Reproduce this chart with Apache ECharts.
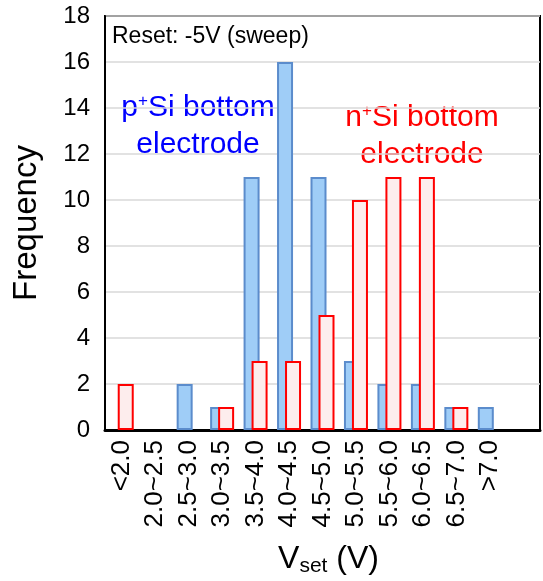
<!DOCTYPE html>
<html>
<head>
<meta charset="utf-8">
<script src="https://cdn.jsdelivr.net/npm/echarts@6/dist/echarts.min.js"></script>
<style>
  html, body { margin: 0; padding: 0; background: #fff; }
  #main { width: 543px; height: 581px; }
</style>
</head>
<body>
<div id="main"></div>
<script>
// ===================== data =====================
const categories = ['<2.0', '2.0~2.5', '2.5~3.0', '3.0~3.5', '3.5~4.0', '4.0~4.5', '4.5~5.0',
  '5.0~5.5', '5.5~6.0', '6.0~6.5', '6.5~7.0', '>7.0', '']
const pSiData = [0, 0, 2, 1, 11, 16, 11, 3, 2, 2, 1, 1]
const nSiData = [2, 0, 0, 1, 3, 3, 5, 10, 11, 11, 1, 0]
const yTicks = { min: 0, max: 18, interval: 2 }

const font = '"Liberation Sans", Arial, sans-serif'
// zero counts draw no bar
const noZero = (arr) => arr.map((v) => (v === 0 ? null : v))

// ===================== init =====================
const myChart = echarts.init(document.getElementById('main'))
const option = {
  animation: false,
  grid: {
    left: 105,
    right: 3,
    top: 16,
    bottom: 151,
    containLabel: false,
    outerBoundsMode: 'none',
    show: true,
    borderColor: '#000',
    borderWidth: 2,
  },
  xAxis: {
    type: 'category',
    data: categories,
    name: '{v|V}{s|set}{v| (V)}',
    nameLocation: 'middle',
    nameGap: 112,
    nameTextStyle: {
      padding: [0, 0, 0, 12],
      rich: {
        v: { fontSize: 32, fontFamily: font, color: '#000' },
        s: { fontSize: 21, fontFamily: font, color: '#000', verticalAlign: 'bottom', padding: [14, 0, 0, 0] },
      },
    },
    axisLine: { lineStyle: { color: '#000', width: 3 } },
    axisTick: { show: false },
    axisLabel: {
      rotate: 90,
      interval: 0,
      fontSize: 26,
      fontFamily: font,
      color: '#000',
      margin: 10,
    },
  },
  yAxis: {
    type: 'value',
    min: yTicks.min,
    max: yTicks.max,
    interval: yTicks.interval,
    name: 'Frequency',
    nameLocation: 'middle',
    nameGap: 62,
    nameTextStyle: { fontSize: 33, fontFamily: font, color: '#000' },
    axisLine: { show: true, lineStyle: { color: '#000', width: 2 } },
    axisTick: { show: false },
    axisLabel: { fontSize: 24, fontFamily: font, color: '#000', margin: 15 },
    splitLine: { lineStyle: { color: '#d9d9d9', width: 1.5 } },
  },
  series: [
    {
      name: 'p+Si',
      type: 'bar',
      data: noZero(pSiData),
      barWidth: 16,
      barGap: '-50%',
      itemStyle: { color: '#9fcdf7', borderColor: '#5b8ccc', borderWidth: 2 },
    },
    {
      name: 'n+Si',
      type: 'bar',
      data: noZero(nSiData),
      barWidth: 16,
      itemStyle: { color: '#fdeded', borderColor: '#ff0000', borderWidth: 2 },
    },
  ],
  graphic: [
    {
      type: 'text',
      x: 112,
      y: 37,
      style: { text: 'Reset: -5V (sweep)', fontSize: 23, fontFamily: font, fill: '#000', verticalAlign: 'middle' },
    },
    {
      type: 'text',
      x: 198,
      y: 108,
      style: {
        text: '{t|p}{u|+}{t|Si bottom}',
        align: 'center',
        verticalAlign: 'middle',
        rich: {
          t: { fontSize: 30, fontFamily: font, fill: '#0000ff' },
          u: { fontSize: 17, fontFamily: font, fill: '#0000ff', verticalAlign: 'top', padding: [0, 0, 14, 0] },
        },
      },
    },
    {
      type: 'text',
      x: 198,
      y: 145,
      style: { text: 'electrode', align: 'center', verticalAlign: 'middle', fontSize: 30, fontFamily: font, fill: '#0000ff' },
    },
    {
      type: 'text',
      x: 422,
      y: 118,
      style: {
        text: '{t|n}{u|+}{t|Si bottom}',
        align: 'center',
        verticalAlign: 'middle',
        rich: {
          t: { fontSize: 30, fontFamily: font, fill: '#ff0000' },
          u: { fontSize: 17, fontFamily: font, fill: '#ff0000', verticalAlign: 'top', padding: [0, 0, 14, 0] },
        },
      },
    },
    {
      type: 'text',
      x: 422,
      y: 155,
      style: { text: 'electrode', align: 'center', verticalAlign: 'middle', fontSize: 30, fontFamily: font, fill: '#ff0000' },
    },
  ],
}
myChart.setOption(option)

// ===================== resize ===================
window.addEventListener('resize', () => {
  myChart.resize()
})
</script>
</body>
</html>
